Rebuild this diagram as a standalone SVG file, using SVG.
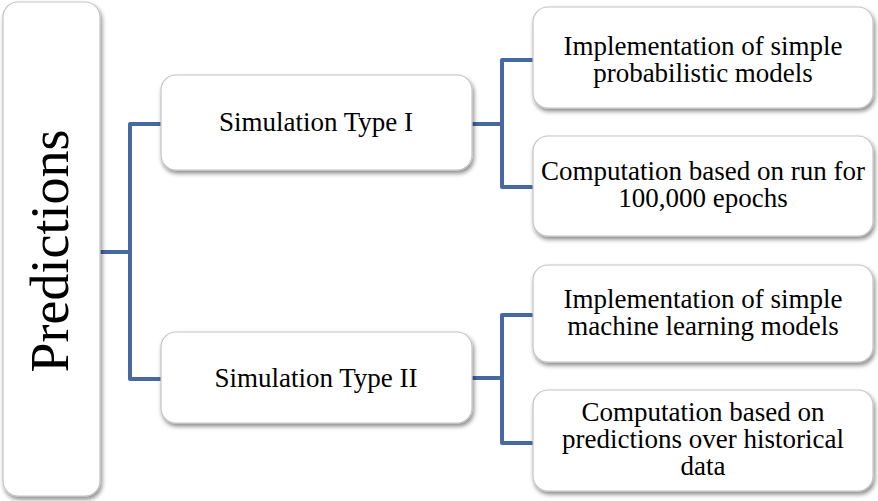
<svg xmlns="http://www.w3.org/2000/svg" width="878" height="501" viewBox="0 0 878 501">
<defs>
<filter id="sh" x="-10%" y="-10%" width="125%" height="130%">
<feDropShadow dx="1.5" dy="3" stdDeviation="2" flood-color="#000" flood-opacity="0.45"/>
</filter>
</defs>
<style>
.box{fill:#fff;stroke:#c4c4c4;stroke-width:1.2;filter:url(#sh)}
.t{font-family:"Liberation Serif","Times New Roman",serif;font-size:27px;fill:#000;text-anchor:middle}
.c{fill:none;stroke:#4569a0;stroke-width:4;stroke-linejoin:round}
</style>
<rect width="878" height="501" fill="#fff"/>
<g id="connectors">
<path class="c" d="M100,252 H130"/>
<path class="c" d="M161,124 H130 V379 H161"/>
<path class="c" d="M472,124 H502"/>
<path class="c" d="M533,60 H502 V187 H533"/>
<path class="c" d="M472,378 H502"/>
<path class="c" d="M533,315 H502 V443 H533"/>
</g>
<g id="predictions">
<rect class="box" x="3" y="2" width="97" height="494" rx="15"/>
<text class="t" style="font-size:54px" transform="translate(68,251) rotate(-90)" x="0" y="0">Predictions</text>
</g>
<g id="sim1">
<rect class="box" x="161" y="75" width="311" height="95" rx="15"/>
<text class="t" x="316" y="131">Simulation Type I</text>
</g>
<g id="sim2">
<rect class="box" x="161" y="332" width="311" height="91" rx="15"/>
<text class="t" x="316" y="387">Simulation Type II</text>
</g>
<g id="c1">
<rect class="box" x="533" y="7" width="340" height="101" rx="15"/>
<text class="t" x="703" y="55">Implementation of simple</text>
<text class="t" x="703" y="82">probabilistic models</text>
</g>
<g id="c2">
<rect class="box" x="533" y="136" width="340" height="100" rx="15"/>
<text class="t" x="703" y="180">Computation based on run for</text>
<text class="t" x="703" y="207">100,000 epochs</text>
</g>
<g id="c3">
<rect class="box" x="533" y="265" width="340" height="97" rx="15"/>
<text class="t" x="703" y="308">Implementation of simple</text>
<text class="t" x="703" y="335">machine learning models</text>
</g>
<g id="c4">
<rect class="box" x="533" y="390" width="340" height="101" rx="15"/>
<text class="t" x="703" y="421">Computation based on</text>
<text class="t" x="703" y="448">predictions over historical</text>
<text class="t" x="703" y="475">data</text>
</g>
</svg>
